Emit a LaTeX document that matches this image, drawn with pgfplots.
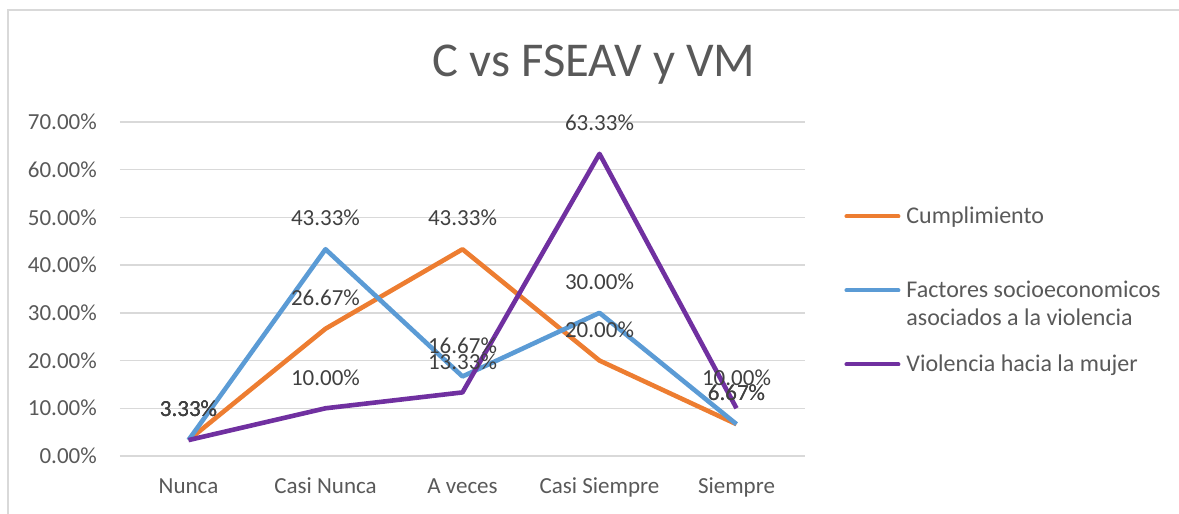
\documentclass[border=0pt]{standalone}
\usepackage{fontspec}
\setmainfont{Carlito}
\usepackage{pgfplots}
\pgfplotsset{compat=1.18}
\definecolor{naranja}{HTML}{ED7D31}
\definecolor{azul}{HTML}{5B9BD5}
\definecolor{morado}{HTML}{7030A0}
\definecolor{rejilla}{HTML}{D9D9D9}
\definecolor{texto}{HTML}{595959}
\definecolor{etiqueta}{HTML}{404040}
\newcommand{\fuente}{\fontsize{11.5}{13.5}\selectfont}
\newcommand{\fuenteley}{\fontsize{12}{14}\selectfont}

\begin{document}
\begin{tikzpicture}
\begin{axis}[name=ax, scale only axis, width=342.5pt, height=167pt,
  xmin=-0.5, xmax=4.5, ymin=0, ymax=70,
  xtick={0,...,4},
  xticklabels={Nunca, Casi Nunca, A veces, Casi Siempre, Siempre},
  ytick={0,10,...,70},
  /pgf/number format/assume math mode=true,
  yticklabel={\pgfmathprintnumber[fixed,fixed zerofill,precision=2]{\tick}\%},
  axis line style={draw=none}, major tick length=0pt,
  ymajorgrids, grid style={rejilla, line width=0.75pt},
  tick label style={font=\fuente, text=texto},
  yticklabel style={anchor=base east, inner sep=0pt, xshift=-11.4pt, yshift=-3.8pt},
  xticklabel style={anchor=base, inner sep=0pt, yshift=-19pt},
  clip=false,
  nodes near coords={\pgfmathprintnumber[fixed,fixed zerofill,precision=2,assume math mode=true]{\pgfplotspointmeta}\%},
  every node near coord/.append style={anchor=center, yshift=15.5pt, font=\fuente, text=etiqueta},
  every axis plot/.append style={line width=2.3pt, line join=round, mark=none},
  legend image code/.code={\draw[#1, line width=2pt, line cap=round] (0pt,0pt) -- (26pt,0pt);},
  legend style={draw=none, fill=none, at={(1.057,0.898)}, anchor=north west,
    inner sep=0pt, row sep=0pt, column sep=3pt, font=\fuenteley, text=texto,
    cells={anchor=west}, nodes={inner sep=0pt}},
]
\addplot[naranja] coordinates {(0,3.33) (1,26.67) (2,43.33) (3,20.00) (4,6.67)};
\addlegendentry[text height=33.5pt, text depth=26.5pt]{Cumplimiento}
\addplot[azul] coordinates {(0,3.33) (1,43.33) (2,16.67) (3,30.00) (4,6.67)};
\addlegendentry[text height=10.5pt, text depth=3.5pt]{Factores socioeconomicos}
\addlegendimage{empty legend}
\addlegendentry[text height=10.5pt, text depth=3.5pt]{asociados a la violencia}
\addplot[morado] coordinates {(0,3.33) (1,10.00) (2,13.33) (3,63.33) (4,10.00)};
\addlegendentry[text height=19.5pt, text depth=12.5pt]{Violencia hacia la mujer}
\end{axis}
\node[anchor=base, font=\fontsize{24.3}{29}\selectfont, text=texto]
  at ([shift={(237pt,189.6pt)}]ax.south west) {C vs FSEAV y VM};
\draw[rejilla, line width=0.75pt] ([shift={(-56pt,-40pt)}]ax.south west)
  -- ([shift={(-56pt,223pt)}]ax.south west) -- ([shift={(540pt,223pt)}]ax.south west);
\pgfresetboundingbox
\path[use as bounding box] ([shift={(-60pt,-29pt)}]ax.south west)
  rectangle ([shift={(529.5pt,228pt)}]ax.south west);
\end{tikzpicture}
\end{document}
